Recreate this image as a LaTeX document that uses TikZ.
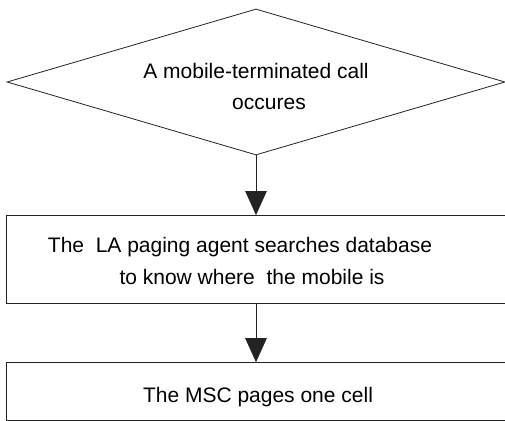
\documentclass[tikz,border=0pt]{standalone}
\usepackage{fontspec}
\setmainfont{Liberation Sans}
\usetikzlibrary{positioning,shapes.geometric,arrows.meta}
\definecolor{myline}{RGB}{35,35,35}

\begin{document}
\begin{tikzpicture}[x=1pt,y=1pt,
        dec/.style={diamond, aspect=3.41, draw=myline, line width=0.8pt,
                    inner sep=0pt, minimum width=498pt, minimum height=146pt,
                    font=\fontsize{21}{31}\selectfont, align=center},
        proc/.style={rectangle, draw=myline, line width=0.8pt, inner sep=0pt,
                     minimum width=504pt, font=\fontsize{21}{32}\selectfont,
                     align=center},
        arr/.style={-{Triangle[width=21.5pt,length=24pt]}, line width=0.8pt, myline}
      ]
        \useasboundingbox (0,0) rectangle (505,-420);
        \node[dec] (call) at (256,-82)
              {\rule{0pt}{23.5pt}A mobile-terminated call\\
               \hspace*{26pt}occures};
        \node[proc, minimum height=88pt, below=59.7pt of call, xshift=2pt] (la)
              {\rule{0pt}{19pt}The~ LA paging agent searches database\hspace*{36pt}\\
               to know where~ the mobile is\hspace*{12pt}};
        \node[proc, minimum height=58pt, below=58.3pt of la] (msc)
              {\rule{0pt}{26pt}The MSC pages one cell};
        \draw[arr] (call.south) -- (call.south |- la.north);
        \draw[arr] (call.south |- la.south) -- (call.south |- msc.north);
      \end{tikzpicture}
\end{document}
